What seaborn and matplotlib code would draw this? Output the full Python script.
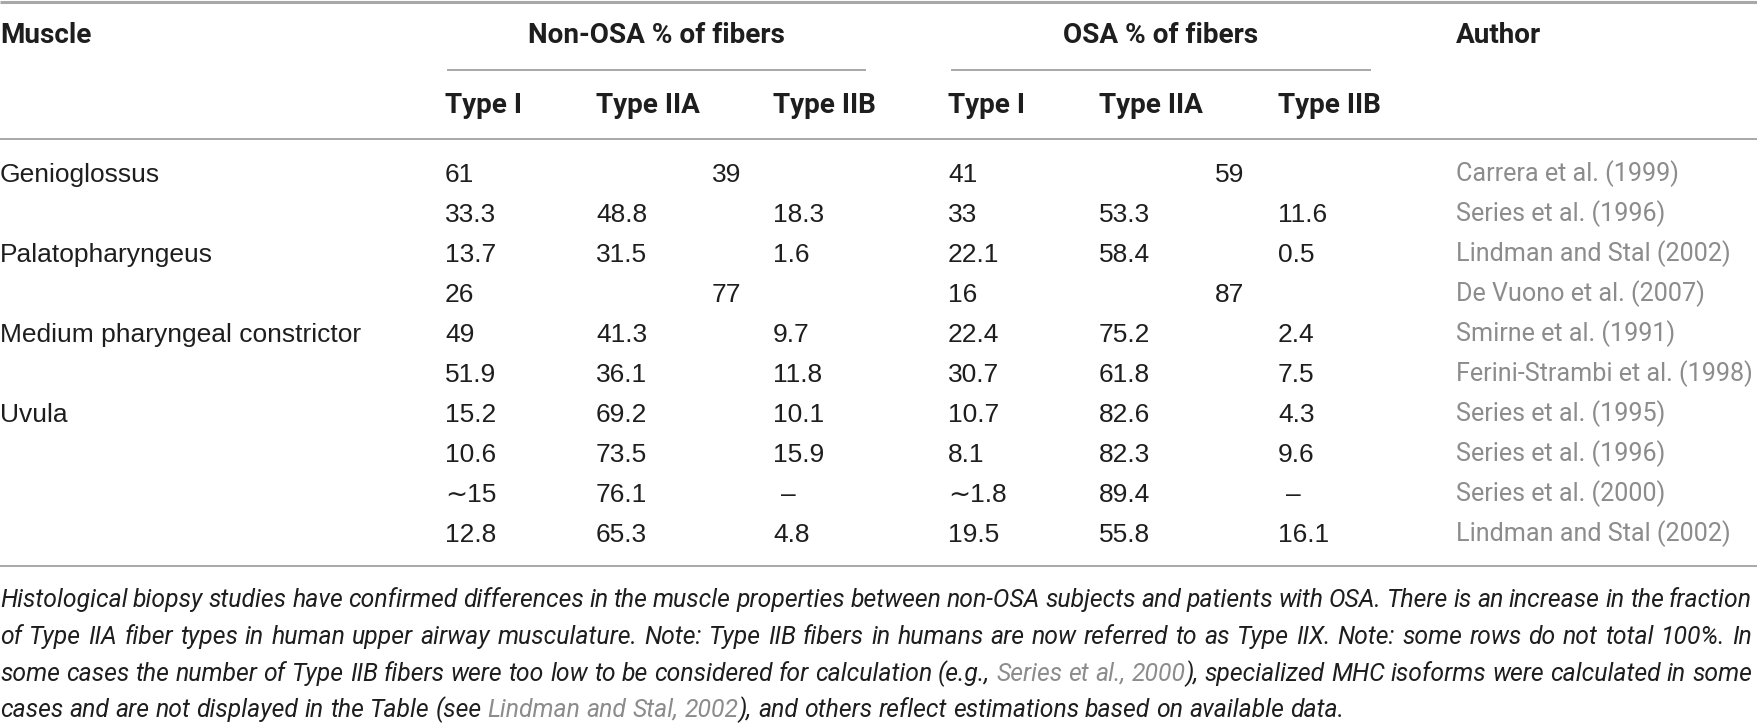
import matplotlib
matplotlib.use("Agg")
import matplotlib.pyplot as plt
import seaborn as sns

# table content
muscles = ["Genioglossus", "", "Palatopharyngeus", "", "Medium pharyngeal constrictor",
           "", "Uvula", "", "", ""]
non_osa_type_i = ["61", "33.3", "13.7", "26", "49", "51.9", "15.2", "10.6", "\u223c15", "12.8"]
non_osa_type_iia = ["39", "48.8", "31.5", "77", "41.3", "36.1", "69.2", "73.5", "76.1", "65.3"]
non_osa_type_iib = [None, "18.3", "1.6", None, "9.7", "11.8", "10.1", "15.9", "\u2013", "4.8"]
osa_type_i = ["41", "33", "22.1", "16", "22.4", "30.7", "10.7", "8.1", "\u223c1.8", "19.5"]
osa_type_iia = ["59", "53.3", "58.4", "87", "75.2", "61.8", "82.6", "82.3", "89.4", "55.8"]
osa_type_iib = [None, "11.6", "0.5", None, "2.4", "7.5", "4.3", "9.6", "\u2013", "16.1"]
authors = ["Carrera et al. (1999)", "Series et al. (1996)", "Lindman and Stal (2002)",
           "De Vuono et al. (2007)", "Smirne et al. (1991)", "Ferini-Strambi et al. (1998)",
           "Series et al. (1995)", "Series et al. (1996)", "Series et al. (2000)",
           "Lindman and Stal (2002)"]
group_titles = ["Non-OSA % of fibers", "OSA % of fibers"]
sub_headers = ["Type I", "Type IIA", "Type IIB"]
# gray citations are marked with {}
caption_lines = [
    "Histological biopsy studies have confirmed differences in the muscle properties between non-OSA subjects and patients with OSA. There is an increase in the fraction",
    "of Type IIA fiber types in human upper airway musculature. Note: Type IIB fibers in humans are now referred to as Type IIX. Note: some rows do not total 100%. In",
    "some cases the number of Type IIB fibers were too low to be considered for calculation (e.g., {Series et al., 2000}), specialized MHC isoforms were calculated in some",
    "cases and are not displayed in the Table (see {Lindman and Stal, 2002}), and others reflect estimations based on available data.",
]

sns.set_theme(style="white")
plt.rcParams['font.family'] = ['Liberation Sans', 'DejaVu Sans']
NARROW = ['Roboto', 'Liberation Sans', 'DejaVu Sans']
INK, GRAY, RULE = '#1e1e1e', '#8c8c8c', '#a8a8a8'

W, H = 1757, 727
fig = plt.figure(figsize=(W / 100, H / 100), dpi=100)
ax = fig.add_axes([0, 0, 1, 1])
ax.set_xlim(0, W)
ax.set_ylim(H, 0)
ax.axis('off')
renderer = fig.canvas.get_renderer()


def text_width(s, size, **kw):
    t = ax.text(0, 0, s, fontsize=size, **kw)
    w = t.get_window_extent(renderer).width
    t.remove()
    return w


def fit(s, target, **kw):
    return 20 * target / text_width(s, 20, **kw)


def put(x, yc, s, size, **kw):
    # yc is the visual centre of the capitals
    ax.text(x, yc + 0.36 * size * 100 / 72, s, fontsize=size, va='baseline', **kw)


body_size = fit("Medium pharyngeal constrictor", 360)
auth_kw = dict(family=NARROW)
auth_size = fit(authors[5], 296, **auth_kw)
head_kw = dict(family=NARROW, weight='bold')
head_size = fit(group_titles[0], 256, **head_kw)
cap_kw = dict(family=NARROW, style='italic')
cap_size = fit(caption_lines[3].replace('{', '').replace('}', ''), 1343, **cap_kw)

# rules
ax.hlines(1.5, 0, W, color=RULE, lw=2.2)
ax.hlines([138.5, 566], 0, W, color=RULE, lw=1.4)
ax.hlines(70, 447, 866, color=RULE, lw=1.4)
ax.hlines(70, 951, 1371, color=RULE, lw=1.4)

# headers
put(0, 33, "Muscle", head_size, color=INK, **head_kw)
put(656, 33, group_titles[0], head_size, color=INK, ha='center', **head_kw)
put(1161, 33, group_titles[1], head_size, color=INK, ha='center', **head_kw)
put(1456, 33, "Author", head_size, color=INK, **head_kw)
col_x = [[445, 596, 773], [948, 1099, 1278]]
span_x = [712, 1215]
for cols in col_x:
    for x, s in zip(cols, sub_headers):
        put(x, 103, s, head_size, color=INK, **head_kw)

# body rows
groups = [(non_osa_type_i, non_osa_type_iia, non_osa_type_iib),
          (osa_type_i, osa_type_iia, osa_type_iib)]
for i in range(len(muscles)):
    y = 172 + 40 * i
    put(0, y, muscles[i], body_size, color=INK)
    for g, (t1, t2, t3) in enumerate(groups):
        put(col_x[g][0], y, t1[i], body_size, color=INK)
        if t3[i] is None:
            put(span_x[g], y, t2[i], body_size, color=INK)
        else:
            put(col_x[g][1], y, t2[i], body_size, color=INK)
            dx = 8 if t3[i] == "\u2013" else 0
            put(col_x[g][2] + dx, y, t3[i], body_size, color=INK)
    put(1456, y, authors[i], auth_size, color=GRAY, **auth_kw)


# caption, justified like the journal layout
def parse(line):
    words, cur, piece, gray = [], [], '', False
    for ch in line:
        if ch in '{}':
            if piece:
                cur.append((piece, gray))
                piece = ''
            gray = ch == '{'
        elif ch == ' ':
            if piece:
                cur.append((piece, gray))
                piece = ''
            if cur:
                words.append(cur)
                cur = []
        else:
            piece += ch
    if piece:
        cur.append((piece, gray))
    if cur:
        words.append(cur)
    return words


space_w = text_width("a a", cap_size, **cap_kw) - text_width("aa", cap_size, **cap_kw)
cap_y = [598, 635, 672, 708]
for k, line in enumerate(caption_lines):
    words = parse(line)
    widths = [[text_width(p, cap_size, **cap_kw) for p, _ in w] for w in words]
    total = sum(sum(w) for w in widths)
    last = k == len(caption_lines) - 1
    gap = space_w if last else (1752 - total) / (len(words) - 1)
    x = 0
    for w, ws in zip(words, widths):
        for (p, gray), pw in zip(w, ws):
            put(x, cap_y[k], p, cap_size, color=GRAY if gray else INK, **cap_kw)
            x += pw
        x += gap

fig.savefig("out.png", dpi=100)
